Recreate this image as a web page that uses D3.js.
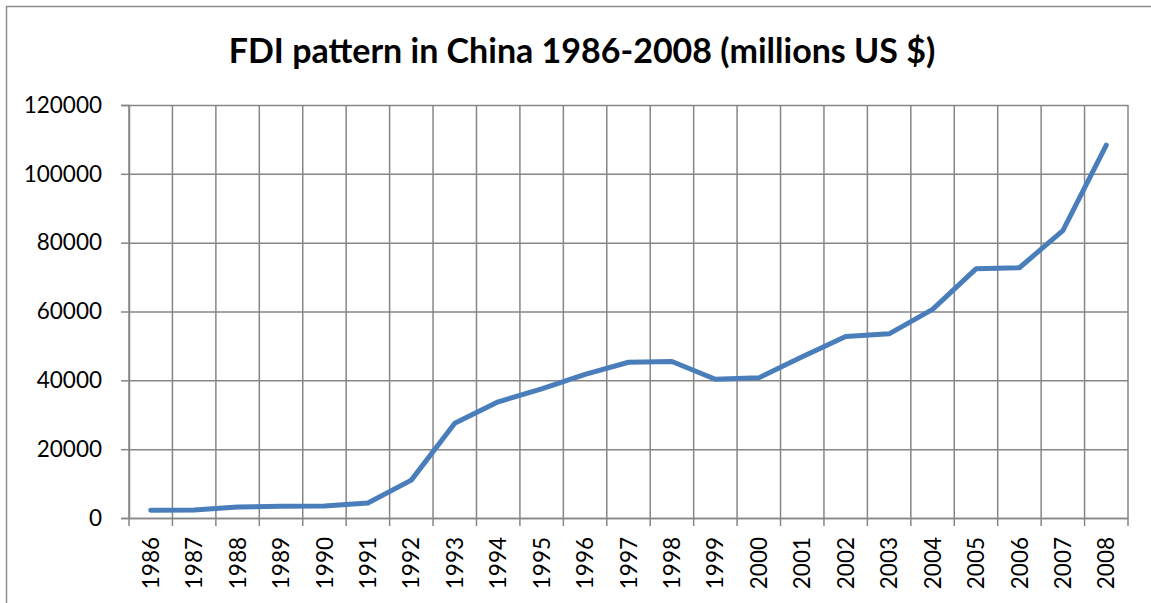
<!DOCTYPE html>
<html>
<head>
<meta charset="utf-8">
<script src="https://cdn.jsdelivr.net/npm/d3@7"></script>
<style>
  body { margin: 0; background: #fff; }
  svg { display: block; }
  .tick text { font-family: Lato, "Open Sans", sans-serif; fill: #000; }
</style>
</head>
<body>
<svg id="chart" width="1151" height="603"></svg>
<script>
// Data (millions US $)
const years = ['1986','1987','1988','1989','1990','1991','1992','1993','1994','1995','1996','1997',
  '1998','1999','2000','2001','2002','2003','2004','2005','2006','2007','2008'];
const fdi = [2244, 2314, 3194, 3393, 3487, 4366, 11008, 27515, 33767, 37521, 41726, 45257,
  45463, 40319, 40715, 46878, 52743, 53505, 60630, 72406, 72715, 83521, 108312];
const yTicks = [0, 20000, 40000, 60000, 80000, 100000, 120000];

const svg = d3.select('#chart');

// chart frame
svg.append('rect')
  .attr('x', 6.5).attr('y', 6.5)
  .attr('width', 1170).attr('height', 640)
  .attr('fill', 'none')
  .attr('stroke', '#8c8c8c')
  .attr('stroke-width', 1.5);

const plotLeft = 129, plotRight = 1128, plotTop = 105, plotBottom = 518;

const x = d3.scaleBand()
  .domain(years)
  .range([plotLeft, plotRight])
  .padding(0);

const y = d3.scaleLinear()
  .domain([0, 120000])
  .range([plotBottom, plotTop]);

const gridColor = '#868686';

// horizontal grid
svg.append('g')
  .attr('transform', `translate(${plotLeft},0)`)
  .call(d3.axisLeft(y).tickValues(yTicks).tickSize(-(plotRight - plotLeft)).tickFormat(''))
  .call(g => g.select('.domain').remove())
  .call(g => g.selectAll('line').attr('stroke', gridColor).attr('stroke-width', 1.5));

// vertical grid at band edges
const edges = years.map(d => x(d)).concat([plotRight]);
svg.append('g')
  .selectAll('line')
  .data(edges)
  .join('line')
  .attr('x1', d => d).attr('x2', d => d)
  .attr('y1', plotTop).attr('y2', plotBottom + 8)
  .attr('stroke', gridColor)
  .attr('stroke-width', 1.5);

// y axis
svg.append('g')
  .attr('transform', `translate(${plotLeft},0)`)
  .call(d3.axisLeft(y).tickValues(yTicks).tickSize(8).tickPadding(19).tickFormat(d => d))
  .call(g => g.select('.domain').attr('stroke', gridColor).attr('stroke-width', 1.5))
  .call(g => g.selectAll('line').attr('stroke', gridColor).attr('stroke-width', 1.5))
  .call(g => g.selectAll('text').attr('font-size', 22.5));

// x axis labels
svg.append('g')
  .attr('transform', `translate(0,${plotBottom})`)
  .call(d3.axisBottom(x).tickSize(0).tickPadding(0))
  .call(g => g.select('.domain').attr('stroke', gridColor).attr('stroke-width', 1.5))
  .call(g => g.selectAll('text')
    .attr('font-size', 22.5)
    .attr('transform', 'rotate(-90)')
    .attr('text-anchor', 'end')
    .attr('x', -19)
    .attr('y', 0)
    .attr('dy', '0.36em'));

// line
svg.append('path')
  .datum(fdi)
  .attr('fill', 'none')
  .attr('stroke', '#4a7ebb')
  .attr('stroke-width', 5)
  .attr('stroke-linejoin', 'round')
  .attr('stroke-linecap', 'round')
  .attr('d', d3.line()
    .x((d, i) => x(years[i]) + x.bandwidth() / 2)
    .y(d => y(d)));

// title
svg.append('text')
  .attr('x', 582)
  .attr('y', 63)
  .attr('text-anchor', 'middle')
  .attr('font-family', 'Lato, "Open Sans", sans-serif')
  .attr('font-weight', 'bold')
  .attr('font-size', 34)
  .text('FDI pattern in China 1986-2008 (millions US $)');
</script>
</body>
</html>
